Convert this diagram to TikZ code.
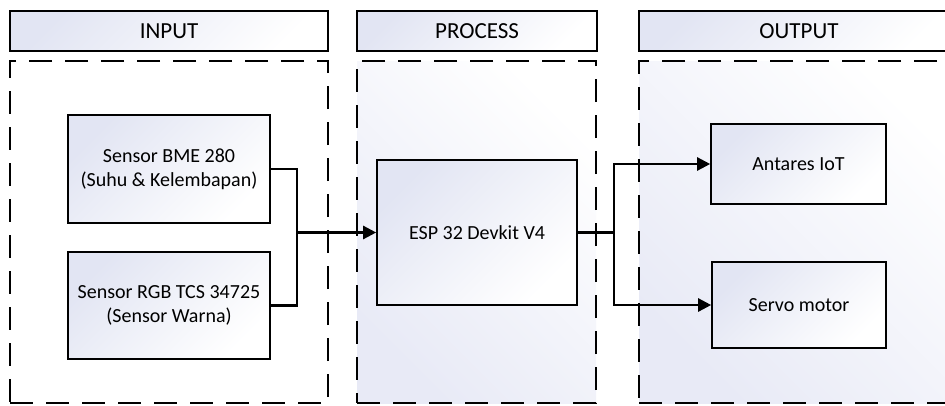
\documentclass[tikz,border=0pt]{standalone}
\usepackage{fontspec}
\setmainfont{Carlito}
\usetikzlibrary{arrows.meta}
\definecolor{lav}{RGB}{226,229,243}
\definecolor{lavc}{RGB}{232,234,246}
\tikzset{
  boxnode/.style={draw=black, line width=1.6pt, rectangle, inner sep=0pt,
    top color=lav, bottom color=white, shading angle=45, align=center,
    font=\fontsize{20}{24}\selectfont},
  headnode/.style={boxnode, minimum height=40pt, font=\fontsize{23}{27}\selectfont},
  contnode/.style={draw=black, line width=1.6pt, dash pattern=on 23pt off 13pt,
    rectangle, inner sep=0pt, minimum height=342pt},
  contshade/.style={contnode, top color=white, bottom color=lavc, shading angle=-45},
  conn/.style={draw=black, line width=2.4pt},
  arr/.style={conn, -{Triangle[length=13pt,width=13pt]}}
}
\begin{document}
\begin{tikzpicture}[x=1pt,y=-1pt]
\useasboundingbox (0,0) rectangle (945,405);
\fill[white] (0,0) rectangle (945,405);
% headers
\node[headnode, minimum width=318pt] (hin) at (169,31) {INPUT};
\node[headnode, minimum width=240pt] (hproc) at (477,31) {PROCESS};
\node[headnode, minimum width=320pt] (hout) at (799,31) {OUTPUT};
% containers
\node[contnode, minimum width=318pt] (cin) at (169,232) {};
\node[contshade, minimum width=239pt] (cproc) at (476.5,232) {};
\node[contshade, minimum width=320pt] (cout) at (799,232) {};
% boxes
\node[boxnode, minimum width=202pt, minimum height=108pt] (bme) at (169,169) {Sensor BME 280\\(Suhu \& Kelembapan)};
\node[boxnode, minimum width=202pt, minimum height=107pt] (rgb) at (169,305.5) {Sensor RGB TCS 34725\\(Sensor Warna)};
\node[boxnode, minimum width=200pt, minimum height=145pt] (esp) at (477,232.5) {ESP 32 Devkit V4};
\node[boxnode, minimum width=175pt, minimum height=80pt] (ant) at (798.5,164) {Antares IoT};
\node[boxnode, minimum width=174pt, minimum height=86pt] (servo) at (799,305) {Servo motor};
% connectors
\coordinate (j1) at (297,232.5);
\coordinate (j2) at (614,232.5);
\draw[conn] (bme.east) -| (j1);
\draw[conn] (rgb.east) -| (j1);
\draw[arr] (j1) -- (esp.west);
\draw[conn] (esp.east) -- (j2);
\draw[arr] (j2) |- (ant.west);
\draw[arr] (j2) |- (servo.west);
\end{tikzpicture}
\end{document}
